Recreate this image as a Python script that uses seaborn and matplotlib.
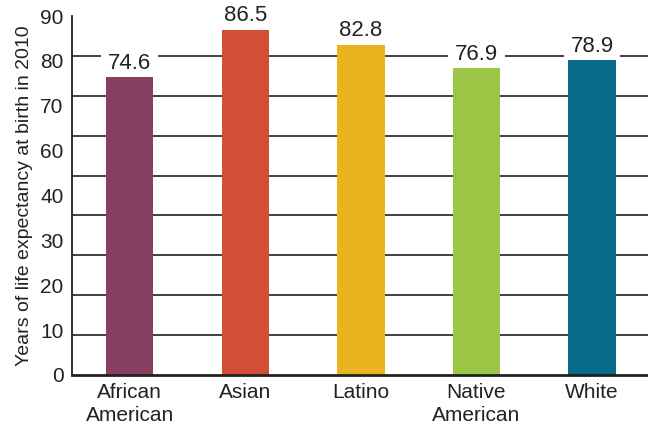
import matplotlib
matplotlib.use("Agg")
import matplotlib.pyplot as plt
import seaborn as sns
import pandas as pd
import numpy as np

# Life expectancy at birth in 2010 by group
groups = ["African\nAmerican", "Asian", "Latino", "Native\nAmerican", "White"]
life_expectancy = [74.6, 86.5, 82.8, 76.9, 78.9]
bar_colors = ["#86405F", "#D24F36", "#E9B41F", "#9CC746", "#066A88"]

# Axis labels printed along the value axis
ytick_labels = ["0", "10", "20", "30", "40", "60", "70", "80", "90"]
grid_values = list(range(0, 100, 10))

sns.set_theme(style="white")
plt.rcParams["font.family"] = ["Liberation Sans", "DejaVu Sans"]

df = pd.DataFrame({"group": groups, "years": life_expectancy})

fig = plt.figure(figsize=(6.48, 4.29), dpi=100)
ax = fig.add_axes([0.111, 0.1259, 0.889, 0.8368])

sns.barplot(data=df, x="group", y="years", hue="group", palette=bar_colors,
            order=groups, hue_order=groups, width=0.41, saturation=1,
            legend=False, ax=ax, zorder=3, linewidth=0)

ax.set_xlim(-0.5, 4.485)
ax.set_ylim(0, 90)

# Horizontal rules every 10 years
ax.set_yticks(grid_values, minor=True)
ax.yaxis.grid(True, which="minor", color="#333333", linewidth=1.3, zorder=0)
ax.set_axisbelow(True)
for t in ax.yaxis.get_minor_ticks():
    t.gridline.set_clip_on(False)

# Printed axis labels, evenly spaced along the axis
ax.set_yticks(np.linspace(0, 90, len(ytick_labels)))
ax.set_yticklabels(ytick_labels)
ax.yaxis.grid(False, which="major")

ax.tick_params(axis="y", which="major", length=0, pad=6, labelsize=15, labelcolor="#222222")
ax.tick_params(axis="y", which="minor", length=0)
ax.tick_params(axis="x", length=0, pad=6, labelsize=15, labelcolor="#222222")
for lbl in ax.get_xticklabels():
    lbl.set_linespacing(1.25)

ax.set_xlabel("")
ax.set_ylabel("Years of life expectancy at birth in 2010", fontsize=14,
              color="#222222", labelpad=5)

for side in ["top", "right"]:
    ax.spines[side].set_visible(False)
ax.spines["left"].set_color("#222222")
ax.spines["left"].set_linewidth(1.3)
ax.spines["bottom"].set_color("#222222")
ax.spines["bottom"].set_linewidth(2.0)
ax.spines["bottom"].set_zorder(4)

# Value labels above each bar
for i, v in enumerate(life_expectancy):
    ax.annotate(f"{v}", xy=(i, v), xytext=(0, 2.5), textcoords="offset points",
                ha="center", va="bottom", fontsize=16, color="#222222",
                zorder=2, annotation_clip=False,
                bbox=dict(boxstyle="square,pad=0.3", fc="white", ec="none"))

fig.savefig("out.png", dpi=100)
